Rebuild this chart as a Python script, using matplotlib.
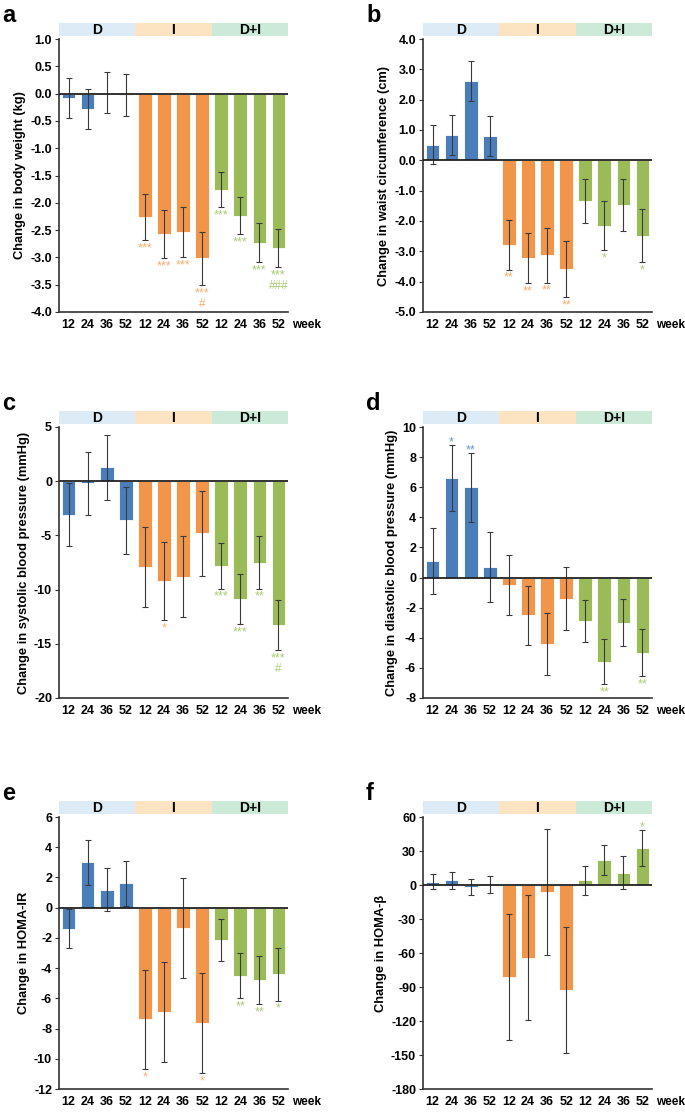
import matplotlib
matplotlib.use('Agg')
import matplotlib.pyplot as plt
import numpy as np

plt.rcParams['font.family'] = ['Liberation Sans', 'DejaVu Sans']

W, H = 685, 1112

groups = ['D', 'I', 'D+I']
weeks = ['12', '24', '36', '52']
bar_colors = ['#4A7EBB', '#F0954A', '#9BBB59']
star_colors = ['#6D95CC', '#F5AE70', '#AACB73']
band_colors = ['#DDEBF6', '#FCE4C3', '#CCEAD8']

# a: body weight (kg)
weight_mean = [-0.08, -0.28, 0.02, -0.03, -2.26, -2.57, -2.54, -3.02, -1.76, -2.24, -2.73, -2.83]
weight_sd = [0.37, 0.37, 0.38, 0.38, 0.43, 0.44, 0.46, 0.49, 0.32, 0.34, 0.36, 0.35]
weight_sig = ['', '', '', '', '***', '***', '***', '***', '***', '***', '***', '***']
weight_sig2 = ['', '', '', '', '', '', '', '#', '', '', '', '###']

# b: waist circumference (cm)
waist_mean = [0.52, 0.82, 2.60, 0.80, -2.79, -3.21, -3.13, -3.59, -1.33, -2.16, -1.48, -2.48]
waist_sd = [0.63, 0.66, 0.66, 0.66, 0.81, 0.83, 0.90, 0.92, 0.73, 0.81, 0.86, 0.87]
waist_sig = ['', '', '', '', '**', '**', '**', '**', '', '*', '', '*']

# c: systolic blood pressure (mmHg)
sbp_mean = [-3.1, -0.2, 1.3, -3.6, -7.9, -9.2, -8.8, -4.8, -7.8, -10.9, -7.5, -13.3]
sbp_sd = [2.9, 2.9, 3.0, 3.1, 3.7, 3.6, 3.7, 3.9, 2.1, 2.3, 2.4, 2.3]
sbp_sig = ['', '', '', '', '', '*', '', '', '***', '***', '**', '***']
sbp_sig2 = ['', '', '', '', '', '', '', '', '', '', '', '#']

# d: diastolic blood pressure (mmHg)
dbp_mean = [1.1, 6.6, 6.0, 0.7, -0.5, -2.5, -4.4, -1.4, -2.9, -5.6, -3.0, -5.0]
dbp_sd = [2.2, 2.2, 2.3, 2.35, 2.0, 1.95, 2.05, 2.1, 1.4, 1.5, 1.55, 1.55]
dbp_sig = ['', '*', '**', '', '', '', '', '', '', '**', '', '**']

# e: HOMA-IR
homair_mean = [-1.4, 3.0, 1.2, 1.6, -7.4, -6.9, -1.35, -7.65, -2.15, -4.5, -4.8, -4.4]
homair_sd = [1.3, 1.5, 1.4, 1.5, 3.3, 3.3, 3.3, 3.3, 1.4, 1.5, 1.6, 1.75]
homair_sig = ['', '', '', '', '*', '', '', '*', '', '**', '**', '*']

# f: HOMA-beta
homab_mean = [3, 4, -2, 0.3, -81, -64, -6, -92.5, 4, 22, 11, 32.5]
homab_sd = [6.5, 7.5, 7, 7.6, 55.5, 55.5, 55.5, 55.5, 12.5, 13.2, 14.7, 16]
homab_sig = ['', '', '', '', '', '', '', '', '', '', '', '*']

panels = [
    ('a', 'Change in body weight (kg)', weight_mean, weight_sd, weight_sig, weight_sig2,
     (-4.0, 1.0), np.arange(-4.0, 1.01, 0.5), '{:.1f}', (59, 288, 39, 312)),
    ('b', 'Change in waist circumference (cm)', waist_mean, waist_sd, waist_sig, None,
     (-5.0, 4.0), np.arange(-5.0, 4.01, 1.0), '{:.1f}', (423, 652, 39, 312)),
    ('c', 'Change in systolic blood pressure (mmHg)', sbp_mean, sbp_sd, sbp_sig, sbp_sig2,
     (-20, 5), np.arange(-20, 6, 5), '{:.0f}', (59, 288, 427, 698)),
    ('d', 'Change in diastolic blood pressure (mmHg)', dbp_mean, dbp_sd, dbp_sig, None,
     (-8, 10), np.arange(-8, 11, 2), '{:.0f}', (423, 652, 427, 698)),
    ('e', 'Change in HOMA-IR', homair_mean, homair_sd, homair_sig, None,
     (-12, 6), np.arange(-12, 7, 2), '{:.0f}', (59, 288, 817, 1089)),
    ('f', 'Change in HOMA-β', homab_mean, homab_sd, homab_sig, None,
     (-180, 60), np.arange(-180, 61, 30), '{:.0f}', (423, 652, 817, 1089)),
]

fig = plt.figure(figsize=(W / 100, H / 100), dpi=100)

for letter, ylabel, mean, sd, sig, sig2, ylim, yticks, fmt, (l, r, t, b) in panels:
    ax = fig.add_axes([l / W, 1 - b / H, (r - l) / W, (b - t) / H])
    x = np.arange(12)
    colors = [bar_colors[i // 4] for i in x]
    ax.bar(x, mean, width=0.72, color=colors, edgecolor='white', linewidth=0.6, zorder=2)
    ax.errorbar(x, mean, yerr=sd, fmt='none', ecolor='#3a3a3a', elinewidth=0.8,
                capsize=2.5, capthick=0.8, zorder=3)
    ax.axhline(0, color='#222222', lw=1.3, zorder=4)
    for i in x:
        c = star_colors[i // 4]
        if sig[i]:
            if mean[i] >= 0:
                ax.annotate(sig[i], (i, mean[i] + sd[i]), xytext=(0, -2.5), textcoords='offset points',
                            ha='center', va='bottom', fontsize=9, color=c)
            else:
                ax.annotate(sig[i], (i, mean[i] - sd[i]), xytext=(0, -1.5), textcoords='offset points',
                            ha='center', va='top', fontsize=9, color=c)
        if sig2 and sig2[i]:
            ax.annotate(sig2[i], (i, mean[i] - sd[i]), xytext=(0, -9), textcoords='offset points',
                        ha='center', va='top', fontsize=8.5, color=c)
    ax.set_xlim(-0.5, 11.5)
    ax.set_ylim(*ylim)
    ax.set_yticks(yticks)
    ax.set_yticklabels([fmt.format(v) for v in yticks], fontsize=9, fontweight='bold')
    ax.set_xticks(x)
    ax.set_xticklabels(weeks * 3, fontsize=9, fontweight='bold')
    ax.tick_params(axis='x', length=0, pad=5)
    ax.tick_params(axis='y', length=3, width=0.8, color='#333333', pad=2)
    ax.spines['top'].set_visible(False)
    ax.spines['right'].set_visible(False)
    ax.spines['left'].set_color('#333333')
    ax.spines['bottom'].set_color('#333333')
    ax.spines['left'].set_linewidth(1.2)
    ax.spines['bottom'].set_linewidth(1.2)
    ax.set_ylabel(ylabel, fontsize=9.3, fontweight='bold', labelpad=3)
    ax.text(11.7, -0.025, 'week', transform=ax.get_xaxis_transform(), ha='left', va='top',
            fontsize=8.5, fontweight='bold')

    # group band above the plot
    band = fig.add_axes([l / W, 1 - (t - 3) / H, (r - l) / W, 13 / H])
    for gi, g in enumerate(groups):
        band.axvspan(gi, gi + 1, color=band_colors[gi], lw=0)
        band.text(gi + 0.5, 0.45, g, ha='center', va='center', fontsize=10, fontweight='bold')
    band.set_xlim(0, 3)
    band.set_ylim(0, 1)
    band.axis('off')

    fig.text((l - 57) / W, 1 - (t - 24) / H, letter,
             fontsize=17, fontweight='bold', ha='left', va='center')

fig.savefig('out.png', dpi=100)
